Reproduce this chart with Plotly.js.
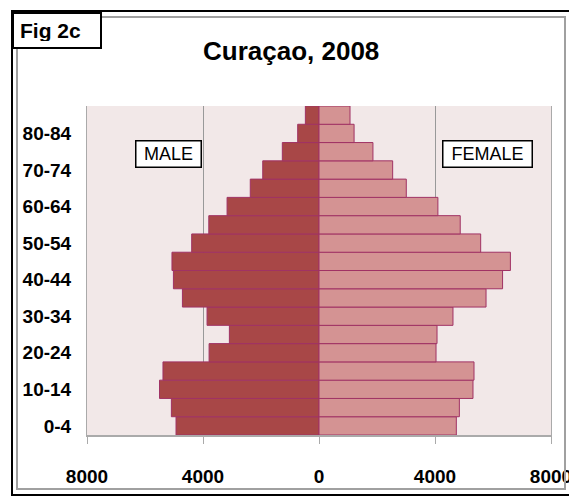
<!DOCTYPE html>
<html>
<head>
<meta charset="utf-8">
<script src="https://cdn.plot.ly/plotly-3.0.1.min.js"></script>
<style>
  html, body { margin: 0; padding: 0; background: #ffffff; }
  #chart { width: 569px; height: 497px; }
</style>
</head>
<body>
<div id="chart"></div>
<script>
const ageGroups = ['0-4','5-9','10-14','15-19','20-24','25-29','30-34','35-39','40-44','45-49','50-54','55-59','60-64','65-69','70-74','75-79','80-84','85+'];
const maleValues = [4930, 5090, 5500, 5380, 3790, 3090, 3860, 4710, 5020, 5070, 4390, 3800, 3170, 2370, 1940, 1265, 735, 470];
const femaleValues = [4735, 4840, 5310, 5345, 4035, 4070, 4620, 5760, 6330, 6600, 5575, 4870, 4100, 3010, 2540, 1860, 1210, 1070];
const yTickLabels = ['0-4','10-14','20-24','30-34','40-44','50-54','60-64','70-74','80-84'];
const xTickValues = [-8000, -4000, 0, 4000, 8000];
const xTickLabels = ['8000', '4000', '0', '4000', '8000'];

const boldFont = '"Liberation Sans", Arial, sans-serif';
const edge = 'rgb(160,50,100)';

const traces = [
  {
    type: 'bar', orientation: 'h', name: 'Male',
    y: ageGroups, x: maleValues.map(v => -v),
    marker: { color: 'rgb(168,71,71)', line: { color: edge, width: 1 } },
    hoverinfo: 'skip'
  },
  {
    type: 'bar', orientation: 'h', name: 'Female',
    y: ageGroups, x: femaleValues,
    marker: { color: 'rgb(212,147,147)', line: { color: edge, width: 1 } },
    hoverinfo: 'skip'
  }
];

const layout = {
  width: 569, height: 497,
  margin: { l: 87, r: 18, t: 106, b: 62 },
  paper_bgcolor: '#ffffff',
  plot_bgcolor: 'rgb(242,232,232)',
  barmode: 'relative',
  bargap: 0,
  showlegend: false,
  xaxis: {
    range: [-8000, 8000],
    tickmode: 'array', tickvals: xTickValues, ticktext: xTickLabels,
    showgrid: true, gridcolor: '#999999', gridwidth: 1,
    zeroline: true, zerolinecolor: '#999999', zerolinewidth: 1,
    showline: true, linecolor: '#aaaaaa', linewidth: 2,
    ticks: 'outside', ticklen: 7, tickcolor: '#aaaaaa', tickwidth: 1,
    ticklabelstandoff: 16,
    ticklabeloverflow: 'allow',
    tickfont: { family: boldFont, size: 19, color: '#000000', weight: 'bold' },
    fixedrange: true
  },
  yaxis: {
    type: 'category',
    categoryorder: 'array', categoryarray: ageGroups,
    tickmode: 'array', tickvals: yTickLabels, ticktext: yTickLabels,
    showgrid: false, zeroline: false,
    showline: true, mirror: true, linecolor: '#aaaaaa', linewidth: 1,
    ticks: '', ticklabelstandoff: 11,
    tickfont: { family: boldFont, size: 19, color: '#000000', weight: 'bold' },
    fixedrange: true
  },
  shapes: [
    { type: 'rect', xref: 'paper', yref: 'paper',
      x0: -75/464, x1: 500/464, y0: 1 + (106-11)/329, y1: -(495-435)/329,
      line: { color: '#000000', width: 2 } },
    { type: 'rect', xref: 'paper', yref: 'paper',
      x0: -70/464, x1: (565-87)/464, y0: 1 + (106-17)/329, y1: -(489-435)/329,
      line: { color: '#a0a0a0', width: 2 } }
  ],
  annotations: [
    { xref: 'paper', yref: 'paper', x: (291-87)/464, y: 1 + (106-51)/329,
      text: 'Curaçao, 2008', showarrow: false, xanchor: 'center', yanchor: 'middle',
      font: { family: boldFont, size: 26, color: '#000000', weight: 'bold' } },
    { xref: 'paper', yref: 'paper', x: -75/464, y: 1 + (106-12)/329,
      text: 'Fig 2c', showarrow: false, xanchor: 'left', yanchor: 'top',
      align: 'left', width: 74, height: 21,
      bgcolor: '#ffffff', bordercolor: '#000000', borderwidth: 2, borderpad: 6,
      font: { family: boldFont, size: 21, color: '#000000', weight: 'bold' } },
    { xref: 'x', yref: 'paper', x: -5207, y: 1 - (153.5-106)/329,
      text: 'MALE', showarrow: false, xanchor: 'center', yanchor: 'middle',
      width: 60, height: 21,
      bgcolor: '#ffffff', bordercolor: '#000000', borderwidth: 1.5, borderpad: 2,
      font: { family: boldFont, size: 18, color: '#000000' } },
    { xref: 'x', yref: 'paper', x: 5793, y: 1 - (154-106)/329,
      text: 'FEMALE', showarrow: false, xanchor: 'center', yanchor: 'middle',
      width: 84, height: 21,
      bgcolor: '#ffffff', bordercolor: '#000000', borderwidth: 1.5, borderpad: 2,
      font: { family: boldFont, size: 18, color: '#000000' } }
  ]
};

Plotly.newPlot('chart', traces, layout, { displayModeBar: false, staticPlot: true });
</script>
</body>
</html>
